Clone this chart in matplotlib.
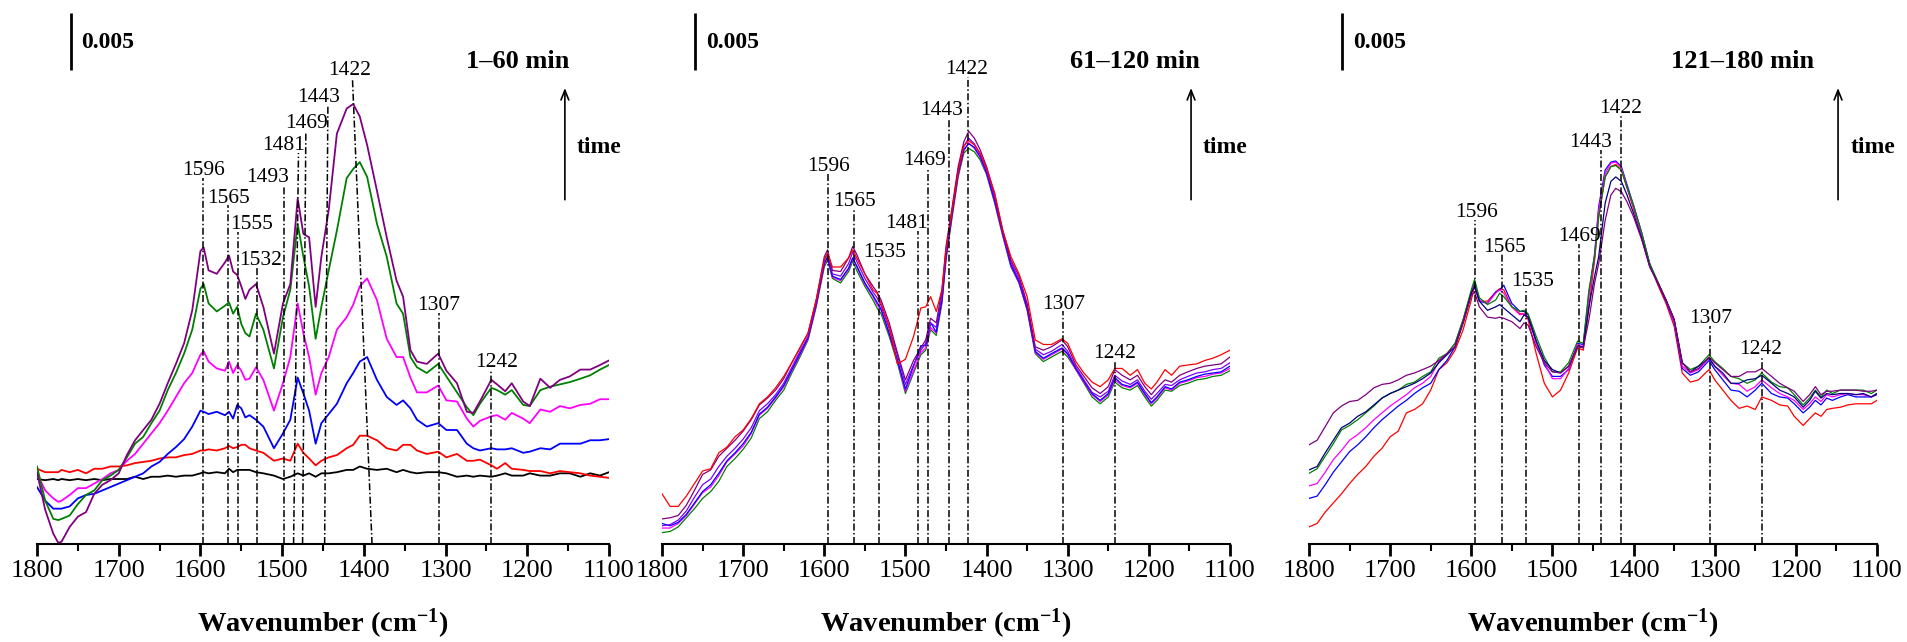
import numpy as np
import matplotlib
matplotlib.use("Agg")
import matplotlib.pyplot as plt
from matplotlib.ticker import MultipleLocator

plt.rcParams['font.family'] = ['Liberation Serif', 'DejaVu Serif']
plt.rcParams['mathtext.fontset'] = 'custom'
plt.rcParams['mathtext.rm'] = 'Liberation Serif:bold'
plt.rcParams['mathtext.it'] = 'Liberation Serif:bold'
plt.rcParams['mathtext.bf'] = 'Liberation Serif:bold'

# absorbance values in units of 1e-3 (scale bar = 0.005 = 5 units)

# ---------------- panel 1: 1-60 min ----------------
wn1 = [1800, 1790, 1780, 1774, 1770, 1760, 1750, 1740, 1730, 1720,
       1710, 1700, 1690, 1680, 1670, 1660, 1650, 1640, 1630, 1620,
       1610, 1600, 1596, 1590, 1580, 1570, 1565, 1560, 1555, 1550,
       1545, 1540, 1532, 1523, 1510, 1499, 1490, 1481, 1474, 1467,
       1459, 1452, 1443, 1433, 1421, 1413, 1405, 1396, 1384, 1372,
       1360, 1352, 1343, 1335, 1323, 1309, 1299, 1286, 1274, 1266,
       1258, 1244, 1237, 1227, 1219, 1205, 1197, 1184, 1172, 1160,
       1148, 1135, 1123, 1111, 1100]
p1_black = [5.7, 5.6, 5.7, 5.6, 5.7, 5.6, 5.7, 5.6, 5.7, 5.6,
            5.7, 5.7, 5.7, 5.9, 5.7, 5.9, 5.9, 6.0, 5.9, 6.0,
            6.0, 6.2, 6.3, 6.2, 6.3, 6.2, 6.6, 6.3, 6.5, 6.5,
            6.5, 6.5, 6.3, 6.2, 6.0, 5.7, 5.9, 6.2, 6.0, 6.2,
            5.9, 6.2, 6.2, 6.3, 6.5, 6.5, 6.8, 6.6, 6.5, 6.6,
            6.3, 6.5, 6.3, 6.2, 6.3, 6.3, 6.2, 5.9, 6.0, 5.9,
            6.0, 5.9, 6.0, 6.2, 6.0, 6.0, 6.2, 6.0, 6.0, 6.2,
            6.2, 5.9, 6.2, 6.0, 6.3]
p1_red = [6.6, 6.3, 6.3, 6.3, 6.5, 6.3, 6.5, 6.2, 6.6, 6.6,
          6.8, 6.8, 6.9, 7.1, 7.2, 7.3, 7.5, 7.6, 7.6, 7.8,
          7.9, 8.2, 8.2, 8.3, 8.2, 8.4, 8.6, 8.4, 8.5, 8.7,
          8.7, 8.4, 8.2, 8.0, 7.3, 7.5, 7.3, 8.8, 8.0, 7.5,
          6.9, 7.3, 7.6, 7.8, 8.4, 8.7, 9.5, 9.5, 9.1, 8.4,
          8.2, 8.7, 8.7, 8.2, 7.9, 8.1, 7.6, 7.9, 7.3, 7.3,
          7.4, 6.9, 6.6, 7.1, 6.6, 6.5, 6.4, 6.4, 6.2, 6.4,
          6.3, 6.2, 6.0, 5.9, 5.8]
p1_blue = [5.0, 3.8, 3.1, 3.1, 3.1, 3.3, 4.0, 4.3, 4.4, 4.7,
           5.0, 5.3, 5.6, 5.9, 6.2, 6.8, 7.2, 7.9, 8.5, 9.2,
           10.3, 11.7, 11.6, 11.4, 11.6, 11.3, 11.6, 11.0, 12.2, 11.9,
           11.1, 11.3, 10.9, 10.3, 8.4, 9.7, 10.9, 14.6, 13.2, 11.7,
           8.8, 10.6, 11.4, 12.3, 14.1, 15.0, 16.0, 16.4, 14.4, 12.9,
           12.2, 12.6, 11.9, 10.9, 10.3, 10.6, 10.0, 10.0, 8.8, 8.4,
           8.2, 8.4, 8.3, 8.3, 8.4, 8.0, 8.1, 8.4, 8.3, 8.8,
           8.8, 8.8, 9.1, 9.1, 9.2]
p1_magenta = [6.2, 4.7, 4.0, 3.7, 3.8, 4.3, 4.9, 4.9, 5.3, 5.7,
              6.2, 6.5, 7.3, 7.9, 8.8, 9.7, 10.6, 11.7, 12.9, 14.1,
              15.0, 16.6, 16.9, 16.0, 15.4, 15.2, 16.0, 15.0, 15.7, 15.2,
              14.4, 14.5, 15.5, 14.4, 11.7, 14.1, 16.4, 21.1, 18.5, 16.4,
              13.1, 15.0, 16.4, 18.8, 19.9, 21.0, 22.6, 23.3, 21.4, 18.0,
              16.4, 16.4, 14.6, 13.3, 13.3, 13.9, 12.6, 12.5, 11.0, 10.3,
              10.8, 11.2, 11.3, 10.9, 11.5, 11.0, 10.6, 11.8, 11.6, 12.1,
              11.9, 12.2, 12.3, 12.7, 12.7]
p1_green = [6.8, 3.8, 2.2, 2.1, 2.2, 2.5, 3.5, 4.3, 4.7, 5.6,
            6.0, 6.5, 7.6, 8.8, 9.4, 10.6, 11.7, 13.5, 15.0, 16.7,
            18.8, 22.4, 22.8, 21.1, 20.4, 20.9, 21.2, 20.2, 20.8, 19.3,
            18.5, 18.2, 20.2, 18.8, 15.4, 19.9, 22.3, 28.1, 25.2, 22.6,
            18.0, 20.8, 24.0, 27.5, 32.1, 32.9, 33.5, 32.2, 28.1, 25.2,
            21.1, 20.2, 16.4, 15.5, 15.0, 15.8, 14.7, 13.3, 12.0, 11.3,
            12.3, 13.7, 13.5, 13.1, 13.5, 12.2, 12.1, 13.5, 13.8, 14.0,
            14.2, 14.5, 14.8, 15.3, 15.7]
p1_purple = [6.3, 3.0, 0.9, 0.1, 0.2, 1.5, 2.4, 2.8, 4.4, 5.2,
             5.6, 6.2, 7.8, 9.1, 10.0, 10.9, 12.3, 14.1, 15.8, 17.6,
             20.5, 25.7, 26.0, 24.0, 23.7, 24.7, 25.3, 23.9, 23.6, 22.6,
             21.5, 22.3, 22.8, 20.8, 16.7, 21.1, 22.8, 30.3, 27.2, 26.9,
             20.8, 25.2, 29.3, 36.0, 38.2, 38.6, 37.5, 35.0, 31.0, 26.9,
             23.1, 21.7, 17.0, 16.0, 15.8, 16.7, 15.2, 14.1, 11.6, 11.5,
             12.5, 14.4, 14.0, 13.4, 14.1, 12.5, 12.1, 14.5, 13.7, 14.4,
             14.7, 15.3, 15.3, 15.7, 16.1]
peaks1 = [1596, 1565, 1555, 1532, 1493, 1481, 1469, 1443, 1422, 1307, 1242]

# ---------------- panel 2: 61-120 min ----------------
wn2 = [1800, 1790, 1780, 1770, 1760, 1750, 1740, 1730, 1720, 1710,
       1700, 1690, 1680, 1670, 1660, 1650, 1640, 1630, 1620, 1610,
       1600, 1596, 1590, 1580, 1570, 1565, 1560, 1550, 1540, 1535,
       1530, 1520, 1510, 1500, 1490, 1481, 1475, 1469, 1462, 1455,
       1450, 1443, 1435, 1428, 1422, 1415, 1408, 1400, 1390, 1380,
       1370, 1360, 1350, 1340, 1330, 1320, 1307, 1300, 1290, 1280,
       1270, 1260, 1250, 1242, 1233, 1223, 1214, 1205, 1197, 1190,
       1180, 1172, 1162, 1152, 1141, 1131, 1121, 1111, 1100]
p2_red = [4.4, 3.3, 3.3, 4.2, 5.3, 6.4, 6.6, 8.0, 8.5, 9.4,
          10.0, 11.0, 12.3, 12.9, 13.7, 14.7, 15.9, 17.2, 18.5, 21.4,
          24.9, 25.5, 24.3, 24.3, 25.1, 25.8, 25.1, 23.7, 22.3, 22.0,
          21.1, 19.1, 15.8, 16.2, 18.2, 20.7, 20.8, 21.7, 20.4, 22.3,
          25.8, 29.0, 32.7, 34.9, 35.4, 35.0, 34.3, 33.0, 30.8, 27.5,
          25.2, 23.7, 21.7, 17.9, 17.5, 17.5, 18.0, 17.6, 16.0, 15.0,
          14.2, 13.8, 14.4, 15.4, 15.4, 14.8, 15.3, 14.1, 13.6, 14.2,
          15.3, 14.8, 15.6, 15.7, 15.8, 16.1, 16.3, 16.6, 17.0]
p2_purple = [2.2, 2.3, 2.5, 3.4, 4.7, 6.1, 6.5, 7.7, 8.4, 9.1,
             9.9, 10.9, 12.2, 12.8, 13.5, 14.5, 15.9, 17.2, 18.5, 21.4,
             25.2, 25.8, 24.0, 23.9, 25.1, 26.1, 25.4, 23.7, 22.6, 22.1,
             21.4, 19.4, 16.8, 14.4, 16.1, 17.2, 17.9, 19.8, 19.4, 22.3,
             26.1, 29.3, 33.1, 35.3, 36.2, 35.6, 34.6, 33.1, 30.6, 27.5,
             24.9, 23.5, 21.1, 17.3, 17.0, 17.3, 17.9, 17.3, 15.7, 14.7,
             13.7, 13.2, 13.8, 15.3, 14.8, 14.4, 14.8, 13.8, 13.1, 13.7,
             14.4, 14.2, 14.8, 15.1, 15.4, 15.6, 15.7, 15.8, 16.4]
p2_violet = [1.6, 1.7, 2.1, 2.9, 4.1, 5.2, 5.7, 6.8, 7.7, 8.4,
             9.2, 10.2, 11.7, 12.3, 13.1, 14.1, 15.5, 16.9, 18.2, 21.1,
             24.9, 25.5, 23.7, 23.5, 24.6, 25.6, 24.8, 23.3, 22.1, 21.6,
             20.9, 18.9, 16.6, 14.0, 15.7, 17.0, 17.6, 19.4, 19.0, 21.8,
             25.6, 29.0, 32.8, 34.9, 35.6, 35.1, 34.2, 32.8, 30.3, 27.3,
             24.7, 23.2, 20.9, 17.1, 16.6, 16.9, 17.5, 16.9, 15.5, 14.4,
             13.3, 12.9, 13.4, 14.8, 14.3, 14.0, 14.4, 13.4, 12.7, 13.2,
             14.0, 13.9, 14.4, 14.7, 15.0, 15.1, 15.3, 15.4, 15.9]
p2_blue = [1.8, 1.6, 1.9, 2.6, 3.6, 4.6, 5.2, 6.2, 7.3, 8.0,
           8.8, 9.8, 11.4, 12.0, 12.9, 13.9, 15.3, 16.7, 18.1, 21.0,
           24.6, 25.2, 23.5, 23.2, 24.2, 25.1, 24.4, 22.9, 21.8, 21.2,
           20.6, 18.5, 16.2, 13.6, 15.6, 17.4, 17.4, 19.4, 18.6, 21.4,
           25.2, 28.7, 32.5, 34.6, 35.1, 34.8, 34.0, 32.6, 30.1, 27.2,
           24.5, 23.0, 20.7, 16.9, 16.3, 16.7, 17.2, 16.7, 15.4, 14.3,
           13.2, 12.6, 13.2, 14.6, 14.0, 13.8, 14.2, 13.2, 12.4, 12.9,
           13.8, 13.6, 14.2, 14.4, 14.7, 14.9, 15.0, 15.1, 15.6]
p2_magenta = [1.4, 1.4, 1.8, 2.5, 3.5, 4.5, 5.0, 6.0, 7.2, 7.9,
              8.6, 9.7, 11.3, 11.9, 12.8, 13.8, 15.2, 16.6, 18.0, 20.9,
              24.5, 25.1, 23.4, 23.1, 24.1, 25.0, 24.3, 22.8, 21.7, 21.0,
              20.5, 18.4, 16.1, 13.4, 15.2, 16.8, 17.2, 19.0, 18.5, 21.3,
              25.1, 28.6, 32.4, 34.5, 35.2, 34.7, 33.9, 32.5, 30.0, 27.1,
              24.4, 22.9, 20.6, 16.8, 16.2, 16.6, 17.1, 16.6, 15.3, 14.2,
              13.1, 12.5, 13.1, 14.4, 13.9, 13.7, 14.1, 13.1, 12.3, 12.8,
              13.7, 13.5, 14.1, 14.3, 14.6, 14.7, 14.9, 15.0, 15.4]
p2_green = [1.0, 1.1, 1.5, 2.3, 3.1, 4.0, 4.6, 5.5, 6.8, 7.5,
            8.3, 9.3, 11.0, 11.6, 12.6, 13.5, 15.0, 16.4, 17.9, 20.8,
            24.3, 24.9, 23.3, 22.9, 23.9, 24.8, 24.0, 22.6, 21.4, 20.7,
            20.2, 18.2, 15.9, 13.2, 15.0, 16.6, 17.0, 18.8, 18.3, 21.1,
            24.9, 28.4, 32.2, 34.3, 34.7, 34.4, 33.7, 32.4, 29.9, 27.0,
            24.3, 22.9, 20.5, 16.7, 16.0, 16.4, 16.9, 16.4, 15.3, 14.1,
            12.9, 12.3, 12.9, 14.2, 13.7, 13.5, 13.9, 12.9, 12.1, 12.6,
            13.5, 13.4, 13.9, 14.1, 14.4, 14.5, 14.7, 14.8, 15.2]
peaks2 = [1596, 1565, 1535, 1481, 1469, 1443, 1422, 1307, 1242]

# ---------------- panel 3: 121-180 min ----------------
wn3 = [1800, 1790, 1780, 1770, 1760, 1750, 1740, 1730, 1720, 1710,
       1700, 1690, 1680, 1670, 1660, 1650, 1640, 1630, 1620, 1610,
       1600, 1596, 1590, 1580, 1570, 1565, 1560, 1550, 1540, 1535,
       1530, 1520, 1510, 1500, 1490, 1480, 1469, 1462, 1455, 1448,
       1443, 1435, 1428, 1422, 1415, 1408, 1400, 1390, 1380, 1370,
       1360, 1350, 1340, 1330, 1320, 1307, 1300, 1290, 1280, 1270,
       1260, 1250, 1242, 1230, 1220, 1210, 1202, 1191, 1183, 1176,
       1169, 1162, 1155, 1145, 1136, 1126, 1117, 1107, 1100]
p3_purple = [8.7, 9.1, 10.3, 11.5, 12.1, 12.5, 12.6, 13.1, 13.7, 14.0,
             14.1, 14.4, 14.8, 15.0, 15.3, 15.6, 16.1, 16.7, 17.3, 19.4,
             21.8, 22.1, 20.8, 19.9, 19.8, 19.9, 19.8, 19.5, 18.9, 19.4,
             19.2, 17.3, 15.9, 15.1, 15.0, 15.6, 17.3, 17.2, 19.7, 22.9,
             24.6, 28.4, 30.6, 31.2, 30.9, 30.0, 28.7, 26.7, 24.3, 22.9,
             21.4, 19.7, 15.9, 15.1, 15.4, 16.4, 15.9, 15.3, 14.7, 14.7,
             15.1, 15.1, 15.4, 14.7, 14.1, 13.7, 13.4, 12.5, 13.1, 13.8,
             13.1, 13.4, 13.4, 13.5, 13.5, 13.5, 13.4, 13.4, 13.5]
p3_navy = [6.5, 6.8, 8.0, 9.1, 10.2, 10.6, 11.2, 11.6, 12.2, 12.8,
           13.2, 13.5, 13.8, 14.1, 14.5, 15.0, 15.9, 16.6, 17.3, 19.4,
           22.0, 22.6, 21.3, 20.5, 20.8, 21.0, 20.7, 20.1, 19.5, 20.1,
           19.9, 17.8, 16.1, 15.3, 15.0, 15.6, 17.3, 17.3, 20.8, 23.5,
           25.2, 29.9, 31.8, 32.2, 31.8, 30.6, 29.0, 26.8, 24.3, 22.9,
           21.4, 19.7, 15.9, 15.1, 15.6, 16.3, 15.6, 15.0, 14.1, 14.1,
           14.4, 14.5, 14.8, 14.1, 13.5, 13.2, 12.9, 12.0, 12.6, 13.4,
           12.8, 13.2, 13.1, 13.2, 13.2, 13.1, 13.2, 12.9, 13.2]
p3_green = [6.2, 6.6, 7.7, 8.8, 10.0, 10.4, 10.9, 11.5, 12.1, 12.8,
            13.2, 13.5, 14.0, 14.2, 14.7, 15.1, 16.3, 16.7, 17.6, 19.7,
            22.3, 23.2, 21.6, 21.0, 21.4, 22.0, 21.7, 20.8, 20.4, 20.5,
            20.2, 18.2, 16.4, 15.1, 15.1, 15.9, 17.8, 17.6, 22.3, 25.2,
            28.7, 32.2, 33.1, 33.2, 32.8, 31.3, 29.7, 27.3, 24.6, 23.0,
            21.4, 19.7, 15.9, 15.3, 15.6, 16.6, 16.0, 15.4, 14.7, 14.5,
            14.1, 14.4, 15.0, 14.2, 13.8, 13.7, 13.1, 12.2, 12.8, 13.5,
            12.9, 13.5, 13.2, 13.5, 13.5, 13.5, 13.5, 13.2, 13.5]
p3_magenta = [5.1, 5.3, 6.3, 7.4, 8.2, 9.1, 9.6, 10.2, 10.9, 11.5,
              12.1, 12.6, 13.1, 13.7, 14.1, 14.7, 16.0, 16.7, 17.6, 19.7,
              22.1, 22.7, 21.4, 21.1, 22.0, 22.3, 22.0, 20.8, 20.1, 20.2,
              19.9, 17.6, 15.9, 14.5, 14.5, 15.4, 17.5, 17.3, 21.7, 25.2,
              29.3, 32.5, 33.4, 33.5, 33.0, 31.3, 29.6, 27.1, 24.5, 22.9,
              21.4, 19.4, 15.6, 15.0, 15.3, 16.3, 15.6, 14.8, 14.1, 14.0,
              13.4, 13.8, 14.4, 13.7, 13.2, 12.9, 12.6, 11.8, 12.3, 12.9,
              12.5, 13.1, 12.9, 13.1, 13.2, 13.1, 13.1, 12.9, 13.2]
p3_blue = [4.0, 4.2, 5.2, 6.3, 7.2, 8.1, 8.7, 9.4, 10.2, 10.9,
           11.5, 12.1, 12.6, 13.2, 13.7, 14.1, 15.3, 16.1, 17.3, 19.5,
           22.0, 22.9, 21.3, 21.1, 22.1, 22.3, 22.7, 21.1, 20.4, 20.4,
           20.1, 17.8, 15.7, 14.7, 14.7, 15.3, 17.6, 17.5, 22.0, 25.5,
           29.6, 32.8, 33.5, 33.6, 33.1, 31.5, 29.7, 27.3, 24.5, 22.9,
           21.3, 19.4, 15.4, 14.8, 15.1, 16.1, 15.3, 14.4, 13.5, 13.4,
           12.9, 13.5, 14.1, 13.2, 12.9, 12.8, 12.3, 11.5, 12.0, 12.6,
           12.2, 12.8, 12.6, 12.9, 13.1, 12.9, 12.9, 12.9, 13.1]
p3_red = [1.5, 1.8, 2.8, 3.6, 4.4, 5.3, 6.1, 6.8, 7.7, 8.4,
          9.4, 9.9, 11.5, 11.8, 12.3, 13.5, 15.3, 15.9, 17.0, 18.8,
          21.4, 22.6, 21.3, 21.3, 22.1, 22.4, 22.3, 20.8, 20.2, 20.2,
          19.7, 16.7, 14.1, 12.9, 13.5, 15.0, 17.2, 17.0, 20.8, 24.9,
          28.7, 32.2, 33.1, 33.3, 32.8, 31.2, 29.4, 27.1, 24.5, 22.7,
          21.1, 19.1, 15.0, 14.2, 14.4, 15.3, 14.4, 13.5, 12.6, 11.9,
          12.1, 11.8, 12.9, 12.6, 12.2, 12.1, 11.2, 10.4, 11.0, 11.5,
          11.2, 11.8, 11.9, 12.0, 12.2, 12.3, 12.3, 12.3, 12.6]
peaks3 = [1596, 1565, 1535, 1469, 1443, 1422, 1307, 1242]

titles = ['1\u201360 min', '61\u2013120 min', '121\u2013180 min']

# ---------------- layout of the annotations ----------------
# peak guide lines: x at top, x at bottom, height of top; label x
p1_top_x = [1597, 1566, 1554, 1531, 1498, 1480, 1471, 1444, 1414, 1308, 1244]
p1_bot_x = [1597, 1566, 1554, 1531, 1498, 1486, 1475, 1448, 1390, 1308, 1244]
p1_top_y = [32.1, 29.7, 27.4, 24.2, 31.5, 34.3, 36.2, 38.5, 40.9, 20.3, 15.3]
p1_txt_x = [1596, 1565, 1537, 1526, 1518, 1498, 1470, 1455, 1418, 1308, 1238]

p2_top_x = [1596, 1563, 1533, 1485, 1472, 1446, 1423, 1306, 1242]
p2_top_y = [32.5, 29.4, 24.9, 27.5, 33.0, 37.4, 41.0, 20.4, 16.1]
p2_txt_x = [1595, 1563, 1526, 1499, 1476, 1456, 1425, 1305, 1242]

p3_top_x = [1596, 1562, 1532, 1467, 1440, 1416, 1306, 1242]
p3_top_y = [28.4, 25.4, 22.4, 26.3, 34.6, 37.6, 19.1, 16.4]
p3_txt_x = [1594, 1559, 1525, 1467, 1453, 1416, 1305, 1243]

panels = [
    dict(wn=wn1, lw=1.3, title_x=1148, arrow_x=1154, time_x=1139,
         curves=[(p1_black, 'black'), (p1_red, '#ff0000'), (p1_blue, '#0000ff'),
                 (p1_magenta, '#ff00ff'), (p1_green, '#008000'), (p1_purple, '#800080')],
         peaks=peaks1, top_x=p1_top_x, bot_x=p1_bot_x, top_y=p1_top_y, txt_x=p1_txt_x,
         box=(37, 609)),
    dict(wn=wn2, lw=0.9, title_x=1137, arrow_x=1148, time_x=1134,
         curves=[(p2_green, '#008000'), (p2_magenta, '#ff00ff'), (p2_blue, '#0000ff'),
                 (p2_violet, '#7b00ff'), (p2_purple, '#800080'), (p2_red, '#ff0000')],
         peaks=peaks2, top_x=p2_top_x, bot_x=p2_top_x, top_y=p2_top_y, txt_x=p2_txt_x,
         box=(662, 1230)),
    dict(wn=wn3, lw=0.9, title_x=1178, arrow_x=1148, time_x=1132,
         curves=[(p3_red, '#ff0000'), (p3_blue, '#0000ff'), (p3_magenta, '#ff00ff'),
                 (p3_green, '#008000'), (p3_navy, '#000080'), (p3_purple, '#800080')],
         peaks=peaks3, top_x=p3_top_x, bot_x=p3_top_x, top_y=p3_top_y, txt_x=p3_txt_x,
         box=(1309, 1877)),
]

W, H = 1908, 642
fig = plt.figure(figsize=(W / 100, H / 100), dpi=100)
dashdot = (0, (4.6, 1.6, 1.0, 1.6))

for i, p in enumerate(panels):
    l, r = p['box']
    ax = fig.add_axes([l / W, (H - 544) / H, (r - l) / W, 544 / H])
    ax.set_xlim(1800, 1100)
    ax.set_ylim(0, 544 / 11.4)

    for y, c in p['curves']:
        ax.plot(p['wn'], y, color=c, lw=p['lw'])

    for pk, xt, xb, yt, tx in zip(p['peaks'], p['top_x'], p['bot_x'], p['top_y'], p['txt_x']):
        ax.plot([xb, xt], [0, yt], color='black', lw=1.1, linestyle=dashdot)
        ax.text(tx, yt + 0.25, str(pk), ha='center', va='baseline', fontsize=15.5)

    # scale bar
    ax.plot([1759, 1759], [41.6, 46.6], color='black', lw=2.0, solid_capstyle='butt')
    ax.text(1746, 44.0, '0.005', ha='left', va='center', fontsize=17, fontweight='bold')

    ax.text(p['title_x'], 42.3, titles[i], ha='right', va='center', fontsize=19,
            fontweight='bold')
    ax.annotate('', xy=(p['arrow_x'], 40.0), xytext=(p['arrow_x'], 30.2),
                arrowprops=dict(arrowstyle='->,head_length=0.5,head_width=0.2',
                                lw=1.2, color='black', shrinkA=0, shrinkB=0,
                                mutation_scale=14))
    ax.text(p['time_x'], 34.8, 'time', ha='left', va='center', fontsize=17,
            fontweight='bold')

    for s in ['left', 'right', 'top']:
        ax.spines[s].set_visible(False)
    ax.spines['bottom'].set_linewidth(1.5)
    ax.yaxis.set_visible(False)
    ax.xaxis.set_major_locator(MultipleLocator(100))
    ax.xaxis.set_minor_locator(MultipleLocator(50))
    ax.tick_params(axis='x', which='major', direction='out', length=8.6, width=2.0,
                   labelsize=19, pad=3)
    ax.tick_params(axis='x', which='minor', direction='out', length=5, width=1.5)
    ax.set_xlabel(r'Wavenumber (cm$^{-1}$)', fontsize=20.5, fontweight='bold')
    ax.xaxis.set_label_coords(0.5, -0.115)
    ax.patch.set_alpha(0)

fig.savefig('out.png', dpi=100)
